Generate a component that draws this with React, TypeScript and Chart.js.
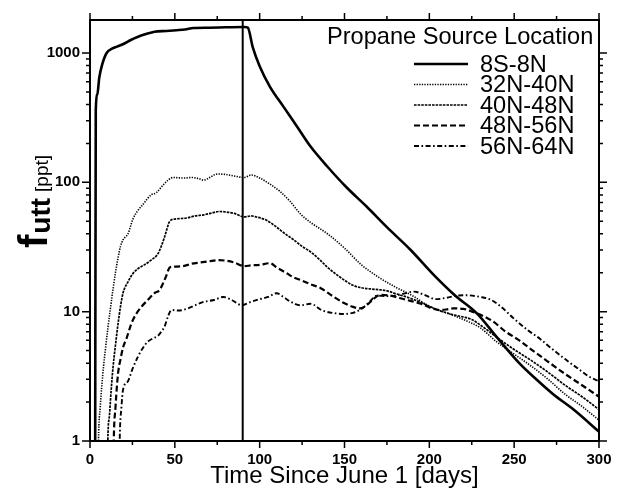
import React, { useEffect, useRef } from "react";
import { Chart, registerables } from "chart.js";

Chart.register(...registerables);

const FONT = '"Liberation Sans", Arial, Helvetica, sans-serif';

// ---- data (day since June 1, mixing ratio in ppt) ----
const seriesLabels = ["8S-8N", "32N-40N", "40N-48N", "48N-56N", "56N-64N"];

const days8S = [3.0, 3.4, 4.3, 5.5, 7, 9.8, 13, 16, 20, 24, 28, 33, 38, 45, 51, 56, 61, 70, 80, 91, 93, 96, 100, 106, 114, 122, 130, 140, 151, 163, 175, 189, 203, 215, 228, 240, 253, 263, 273, 285, 300];
const vals8S = [0.3, 360, 480, 650, 800, 1000, 1080, 1120, 1180, 1260, 1330, 1400, 1460, 1480, 1500, 1520, 1560, 1570, 1580, 1590, 1570, 1100, 790, 550, 385, 270, 189, 132, 92, 65, 45, 30, 19, 13.4, 9.7, 6.3, 4.0, 3.0, 2.3, 1.75, 1.18];

const days32N = [4.5, 5, 6, 7, 8, 9, 10.6, 12, 13.6, 15, 16.5, 18, 19.5, 22.4, 25.3, 28, 31, 36, 39, 43, 46, 49, 55, 60, 64, 67, 70, 75, 80, 85, 91, 95, 100, 106, 112, 118, 124, 130, 140, 150, 160, 170, 180, 190, 200, 210, 220, 230, 240, 250, 260, 270, 280, 290, 300];
const vals32N = [0.3, 1.0, 1.8, 2.7, 3.8, 5, 7.6, 10.5, 15, 20, 26, 32, 36, 40, 52, 60, 67, 80, 83, 95, 104, 109, 108, 109, 107, 104, 108, 116, 115, 112, 109, 114, 108, 97, 85, 71, 57, 49, 40, 31, 23, 18.5, 15.5, 13.3, 11, 9.8, 8.7, 7.5, 5.8, 4.7, 3.8, 3.0, 2.3, 1.85, 1.45];

const days40N = [10, 10.5, 11.5, 12.5, 13.6, 15, 16.5, 18, 19.5, 22.4, 25, 28.3, 32, 36, 40, 42, 44, 47, 50, 57, 62, 67, 72, 76, 80, 85, 91, 95, 98, 104, 110, 115, 120, 125, 130, 135, 140, 145, 150, 155, 160, 165, 170, 175, 180, 185, 190, 195, 200, 205, 210, 215, 220, 225, 230, 240, 250, 260, 270, 280, 290, 300];
const vals40N = [0.3, 1.0, 1.6, 2.5, 3.75, 5.5, 8, 11, 14, 17, 19.5, 21.5, 23, 25, 28, 32, 38, 50, 52, 53, 55, 56, 58, 59.5, 59, 57.5, 54, 55, 54, 51, 45, 40, 36, 32, 29, 25.5, 22, 19.5, 17.5, 16, 15.3, 15, 14.8, 14.5, 13.8, 13.2, 12.5, 11.8, 11, 10.3, 9.8, 9.4, 9.1, 8.7, 7.9, 6.3, 5.1, 4.2, 3.4, 2.7, 2.2, 1.75];

const days48N = [13.5, 14, 15, 16.5, 18, 19.5, 21.5, 24.4, 27, 30.3, 34, 38, 41, 43, 45, 47, 50, 55, 60, 65, 70, 76, 80, 85, 91, 95, 100, 106, 110, 116, 120, 124, 130, 136, 143, 150, 155, 159, 163, 167, 171, 177, 183, 190, 195, 200, 206, 210, 214, 220, 228, 237, 245, 253, 261, 270, 280, 290, 300];
const vals48N = [0.3, 1.0, 1.8, 3.3, 4.3, 5.3, 6.2, 8.1, 9.5, 10.9, 12.3, 13.9, 14.7, 16.5, 19, 22, 22.3, 22.5, 23.5, 24, 24.5, 25, 24.8, 24, 22.5, 22.8, 23, 23.7, 22, 19.8, 18.4, 17.6, 16.3, 15.2, 13.2, 11.6, 10.9, 10.6, 11.2, 12.5, 13.5, 13.3, 12.7, 12.0, 11.5, 10.8, 10.3, 10.4, 10.6, 10.5, 9.7, 8.5, 7.0, 6.0, 5.0, 4.1, 3.3, 2.7, 2.2];

const days56N = [17, 17.5, 18.5, 19.5, 22.4, 25, 28.3, 31, 34, 37, 40, 42, 44, 46, 48, 52, 57, 62, 67, 73, 78.6, 84, 89.4, 94, 98, 105, 110, 114, 118, 124, 130, 137, 145, 150, 155, 160, 165, 169, 175, 180, 185, 191, 197, 204, 210, 216, 222, 230, 236, 242, 250, 258, 265, 272, 280, 288, 295, 300];
const vals56N = [0.3, 1.0, 1.8, 2.5, 2.9, 3.6, 4.5, 5.2, 5.85, 6.2, 6.5, 7.0, 7.7, 9.2, 10.3, 10.2, 10.5, 11.2, 11.9, 12.3, 13, 12.2, 11.2, 11.8, 12.3, 13, 13.9, 13, 12, 11.2, 11.5, 10.2, 9.7, 9.6, 9.8, 10.5, 12, 13.3, 13.2, 13.3, 13.8, 14.3, 13.5, 12.5, 12.8, 13.3, 13.4, 13, 12.4, 11, 8.8, 7.2, 6.2, 5.2, 4.3, 3.6, 3.1, 2.9];

const transitionDay = 90;
const xTickValues = [0, 25, 50, 75, 100, 125, 150, 175, 200, 225, 250, 275, 300];
const xTickLabels = [0, 50, 100, 150, 200, 250, 300];
const yTickLabels = [1, 10, 100, 1000];
const yMin = 1;
const yMax = 1800;
const legendTitle = "Propane Source Location";
const xTitle = "Time Since June 1 [days]";

const seriesDays = [days8S, days32N, days40N, days48N, days56N];
const seriesVals = [vals8S, vals32N, vals40N, vals48N, vals56N];
const seriesStyle = [
  { width: 2.6, dash: [] as number[] },
  { width: 1.6, dash: [1.3, 1.3] },
  { width: 1.7, dash: [2.6, 1.0] },
  { width: 2.2, dash: [6, 3] },
  { width: 1.9, dash: [5, 2.5, 1.6, 2.5] },
];

const overlayPlugin = {
  id: "overlay",
  afterDraw(chart: any) {
    const { ctx, chartArea: a, scales } = chart;
    const xs = scales.x;
    const ys = scales.y;
    ctx.save();
    ctx.strokeStyle = "#000";
    ctx.fillStyle = "#000";
    // frame
    ctx.lineWidth = 2;
    ctx.setLineDash([]);
    ctx.strokeRect(a.left, a.top, a.right - a.left, a.bottom - a.top);
    // tick marks
    ctx.lineWidth = 1.5;
    ctx.beginPath();
    xs.ticks.forEach((t: any) => {
      const px = xs.getPixelForValue(t.value);
      const len = xTickLabels.includes(t.value) ? 7 : 4;
      ctx.moveTo(px, a.bottom);
      ctx.lineTo(px, a.bottom + len);
      ctx.moveTo(px, a.top);
      ctx.lineTo(px, a.top - len);
    });
    ys.ticks.forEach((t: any) => {
      if (t.value > yMax) return;
      const py = ys.getPixelForValue(t.value);
      const len = yTickLabels.includes(t.value) ? 8 : 4;
      ctx.moveTo(a.left, py);
      ctx.lineTo(a.left - len, py);
      ctx.moveTo(a.right, py);
      ctx.lineTo(a.right + len, py);
    });
    ctx.stroke();

    // y-axis title  f_utt [ppt]
    ctx.save();
    ctx.translate(47, 248);
    ctx.rotate(-Math.PI / 2);
    ctx.textAlign = "left";
    ctx.textBaseline = "alphabetic";
    ctx.font = `bold 40px ${FONT}`;
    ctx.fillText("f", 0, 0);
    let w = ctx.measureText("f").width + 1;
    ctx.font = `bold 28px ${FONT}`;
    ctx.fillText("utt", w, 3);
    w += ctx.measureText("utt").width + 6;
    ctx.font = `normal 19px ${FONT}`;
    ctx.fillText("[ppt]", w, 1);
    ctx.restore();

    // legend
    ctx.textAlign = "left";
    ctx.textBaseline = "middle";
    ctx.font = `normal 23.6px ${FONT}`;
    ctx.fillText(legendTitle, 327, 37);
    chart.data.datasets.forEach((ds: any, i: number) => {
      if (!ds.label) return;
      const y = 64 + i * 20.5;
      ctx.beginPath();
      ctx.lineWidth = ds.borderWidth;
      ctx.setLineDash(ds.borderDash || []);
      ctx.moveTo(414, y);
      ctx.lineTo(468, y);
      ctx.stroke();
      ctx.setLineDash([]);
      ctx.fillText(ds.label, 480, y + 1);
    });
    ctx.restore();
  },
};

export default function App() {
  const ref = useRef<HTMLCanvasElement>(null);
  useEffect(() => {
    if (!ref.current) return;
    const datasets: any[] = seriesLabels.map((label, i) => ({
      label,
      data: seriesDays[i].map((d, j) => ({ x: d, y: seriesVals[i][j] })),
      borderColor: "#000",
      borderWidth: seriesStyle[i].width,
      borderDash: seriesStyle[i].dash,
      pointRadius: 0,
      fill: false,
      tension: 0,
      cubicInterpolationMode: "monotone",
      clip: 1,
    }));
    datasets.push({
      label: "",
      data: [
        { x: transitionDay, y: yMin },
        { x: transitionDay, y: yMax },
      ],
      borderColor: "#000",
      borderWidth: 2,
      pointRadius: 0,
      fill: false,
      clip: 0,
    });
    const chart = new Chart(ref.current, {
      type: "line",
      data: { datasets },
      options: {
        animation: false,
        responsive: false,
        parsing: false as any,
        layout: { padding: { left: 0, right: 22, top: 20, bottom: 0 } },
        plugins: { legend: { display: false }, tooltip: { enabled: false } },
        scales: {
          x: {
            type: "linear",
            min: 0,
            max: 300,
            afterBuildTicks: (s: any) => {
              s.ticks = xTickValues.map((v) => ({ value: v }));
            },
            afterFit: (s: any) => {
              s.height = 48;
            },
            ticks: {
              autoSkip: false,
              maxRotation: 0,
              padding: 2,
              color: "#000",
              font: { family: FONT, size: 15, weight: "bold" },
              callback: (v: any) => (xTickLabels.includes(Number(v)) ? String(v) : ""),
            },
            grid: { display: false, drawTicks: true, tickLength: 8 },
            border: { display: false },
            title: {
              display: true,
              text: xTitle,
              color: "#000",
              font: { family: FONT, size: 24 },
              padding: { top: 0, bottom: -2 },
            },
          },
          y: {
            type: "logarithmic",
            min: yMin,
            max: yMax,
            afterBuildTicks: (s: any) => {
              const t: any[] = [];
              yTickLabels.forEach((dec) => {
                for (let m = 1; m < 10; m++) {
                  const v = dec * m;
                  if (v <= yMax) t.push({ value: v });
                }
              });
              s.ticks = t;
            },
            afterFit: (s: any) => {
              s.width = 90;
            },
            ticks: {
              autoSkip: false,
              padding: 2,
              color: "#000",
              font: { family: FONT, size: 15, weight: "bold" },
              callback: (v: any) => (yTickLabels.includes(Number(v)) ? String(v) : ""),
            },
            grid: { display: false, drawTicks: true, tickLength: 8 },
            border: { display: false },
          },
        },
      },
      plugins: [overlayPlugin],
    });
    return () => chart.destroy();
  }, []);
  return (
    <div style={{ position: "fixed", left: 0, top: 0, width: 621, height: 489, background: "#fff" }}>
      <canvas ref={ref} width={621} height={489} />
    </div>
  );
}
